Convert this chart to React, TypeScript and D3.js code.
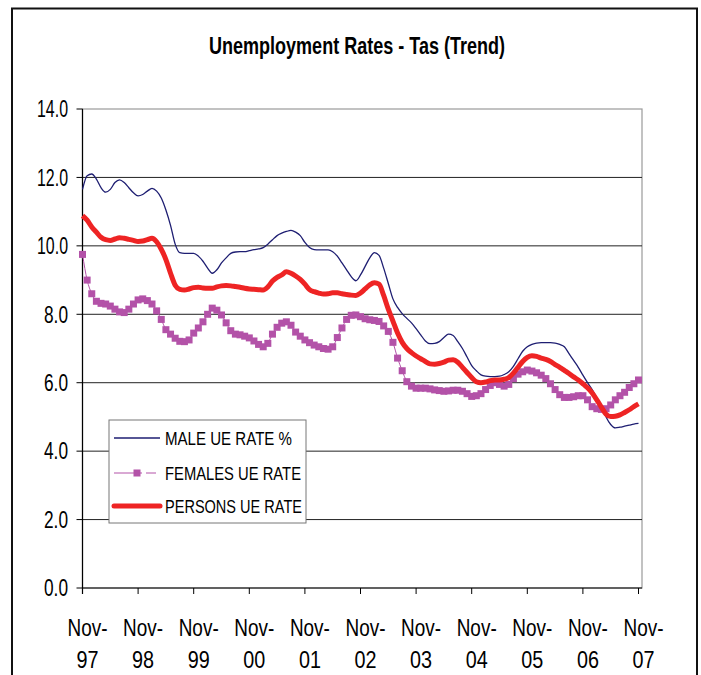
import React from 'react';
import * as d3 from 'd3';

// Monthly trend series, Nov-97 .. Nov-07 (121 months)
const maleRate = [
  11.65, 12.05, 12.1, 11.95, 11.7, 11.57, 11.65, 11.85, 11.93, 11.85, 11.7, 11.55,
  11.46, 11.5, 11.6, 11.68, 11.6, 11.4, 11.05, 10.6, 10.05, 9.8, 9.78, 9.78,
  9.78, 9.7, 9.55, 9.35, 9.2, 9.3, 9.5, 9.65, 9.78, 9.82, 9.83, 9.83,
  9.86, 9.89, 9.91, 9.95, 10.05, 10.18, 10.3, 10.37, 10.42, 10.45, 10.4, 10.3,
  10.1, 9.95, 9.89, 9.88, 9.88, 9.88, 9.83, 9.7, 9.5, 9.3, 9.1, 8.98,
  9.15, 9.4, 9.65, 9.8, 9.72, 9.35, 8.9, 8.45, 8.2, 8.02, 7.88, 7.75,
  7.58, 7.4, 7.22, 7.14, 7.15, 7.2, 7.32, 7.42, 7.38, 7.2, 7.0, 6.75,
  6.5, 6.35, 6.23, 6.19, 6.18, 6.18, 6.19, 6.24, 6.32, 6.48, 6.7, 6.92,
  7.05, 7.12, 7.16, 7.17, 7.17, 7.17, 7.16, 7.12, 7.05, 6.85, 6.65, 6.45,
  6.22, 6.0, 5.8, 5.55, 5.33, 5.0, 4.78, 4.68, 4.7, 4.73, 4.76, 4.79,
  4.81,
];

const femaleRate = [
  9.75, 9.0, 8.6, 8.38, 8.32, 8.3, 8.24, 8.15, 8.07, 8.05, 8.15, 8.3,
  8.42, 8.45, 8.4, 8.3, 8.1, 7.85, 7.55, 7.42, 7.3, 7.21, 7.2, 7.25,
  7.45, 7.6, 7.78, 8.0, 8.18, 8.12, 7.98, 7.75, 7.52, 7.42, 7.4, 7.36,
  7.31, 7.22, 7.12, 7.05, 7.15, 7.42, 7.62, 7.74, 7.78, 7.68, 7.48, 7.36,
  7.25, 7.17, 7.1, 7.05, 7.0, 6.98, 7.05, 7.32, 7.6, 7.85, 7.97, 7.98,
  7.93, 7.87, 7.84, 7.82, 7.79, 7.66, 7.5, 7.18, 6.72, 6.35, 6.03, 5.9,
  5.84, 5.84, 5.84, 5.82, 5.79, 5.77, 5.75, 5.76, 5.78, 5.78, 5.75, 5.68,
  5.6, 5.62, 5.68, 5.8, 5.92, 6.0, 5.95, 5.9, 5.95, 6.12, 6.25, 6.32,
  6.37, 6.34, 6.29, 6.22, 6.12, 5.97, 5.8, 5.65, 5.57, 5.57, 5.59, 5.62,
  5.62, 5.5, 5.3, 5.24, 5.22, 5.24, 5.35, 5.5, 5.62, 5.72, 5.86, 5.97,
  6.08,
];

const personsRate = [
  10.88, 10.75, 10.55, 10.4, 10.25, 10.18, 10.16, 10.2, 10.24, 10.22, 10.19, 10.16,
  10.13, 10.14, 10.18, 10.22, 10.12, 9.9, 9.6, 9.2, 8.85, 8.73, 8.71, 8.74,
  8.78, 8.79, 8.77, 8.76, 8.76, 8.8, 8.83, 8.84, 8.83, 8.81, 8.79, 8.76,
  8.74, 8.73, 8.72, 8.71, 8.8, 8.97, 9.08, 9.15, 9.24, 9.2, 9.12, 9.02,
  8.88, 8.72, 8.66, 8.62, 8.59, 8.6, 8.63, 8.63, 8.6, 8.58, 8.56, 8.55,
  8.62, 8.74, 8.86, 8.92, 8.88, 8.55, 8.15, 7.8, 7.45, 7.18, 7.0, 6.88,
  6.78, 6.7, 6.62, 6.55, 6.54, 6.56, 6.6, 6.66, 6.67, 6.6, 6.45, 6.3,
  6.15, 6.03, 6.0, 6.02, 6.06, 6.08, 6.08, 6.1, 6.15, 6.28, 6.45, 6.62,
  6.74, 6.79, 6.77, 6.72, 6.68, 6.62, 6.53, 6.45, 6.36, 6.27, 6.17, 6.08,
  5.97, 5.85, 5.7, 5.5, 5.28, 5.08, 5.01, 5.02, 5.06, 5.13, 5.21, 5.3,
  5.38,
];

const xTickLabels = ['Nov-97', 'Nov-98', 'Nov-99', 'Nov-00', 'Nov-01', 'Nov-02', 'Nov-03', 'Nov-04', 'Nov-05', 'Nov-06', 'Nov-07'];
const yTicks = [0, 2, 4, 6, 8, 10, 12, 14];
const seriesNames = ['MALE UE RATE %', 'FEMALES UE RATE', 'PERSONS UE RATE'];

const W = 701;
const H = 675;
const plot = { left: 82.5, right: 642, top: 109, bottom: 588 };
const MALE_C = '#1e1e72';
const FEMALE_C = '#b352a8';
const PERSON_C = '#ee2424';
const FONT = "'Liberation Sans', Arial, sans-serif";

export default function App() {
  const months = d3.range(maleRate.length);
  const x = d3.scaleLinear().domain([0, months.length - 1]).range([plot.left, 638.5]);
  const y = d3.scaleLinear().domain([0, 14]).range([plot.bottom, plot.top]);
  const line = d3.line<number>().x((_, i) => x(i)).y((d) => y(d)).curve(d3.curveMonotoneX);
  const fmt = d3.format('.1f');

  const legendX = 109;
  const legendY = 420;
  const rows = [438, 473, 506];

  return (
    <svg width={W} height={H} style={{ position: 'absolute', left: 0, top: 0, background: '#fff' }} fontFamily={FONT}>
      <rect x={0} y={0} width={W} height={H} fill="#fff" />
      <rect x={12} y={8.5} width={685} height={700} fill="none" stroke="#111" strokeWidth={2} />
      <text x={357} y={54} textAnchor="middle" fontSize={23} fontWeight="bold" textLength={296} lengthAdjust="spacingAndGlyphs">
        Unemployment Rates - Tas (Trend)
      </text>

      {/* plot area border */}
      <rect x={plot.left} y={plot.top} width={plot.right - plot.left} height={plot.bottom - plot.top} fill="none" stroke="#9a9a9a" strokeWidth={1.2} />

      {/* gridlines */}
      {yTicks.filter((t) => t > 0 && t < 14).map((t) => (
        <line key={t} x1={plot.left} x2={plot.right} y1={y(t)} y2={y(t)} stroke="#222" strokeWidth={1} />
      ))}

      {/* y axis */}
      <line x1={plot.left} x2={plot.left} y1={plot.top} y2={plot.bottom + 6} stroke="#000" strokeWidth={1.2} />
      {yTicks.map((t) => (
        <g key={t}>
          <line x1={plot.left - 6} x2={plot.left} y1={y(t)} y2={y(t)} stroke="#000" strokeWidth={1} />
          <text x={68} y={y(t)} dy="0.36em" textAnchor="end" fontSize={23} textLength={t >= 10 ? 31 : 24} lengthAdjust="spacingAndGlyphs">
            {fmt(t)}
          </text>
        </g>
      ))}

      {/* x axis */}
      <line x1={plot.left} x2={plot.right} y1={plot.bottom} y2={plot.bottom} stroke="#000" strokeWidth={1.2} />
      {xTickLabels.map((lab, k) => {
        const xi = x(k * 12);
        const [a, b] = [lab.slice(0, 4), lab.slice(4)];
        return (
          <g key={lab}>
            <line x1={xi} x2={xi} y1={plot.bottom} y2={plot.bottom + 6} stroke="#000" strokeWidth={1} />
            <text x={xi + 5} y={636} textAnchor="middle" fontSize={24} textLength={40} lengthAdjust="spacingAndGlyphs">{a}</text>
            <text x={xi + 5} y={668} textAnchor="middle" fontSize={24} textLength={22} lengthAdjust="spacingAndGlyphs">{b}</text>
          </g>
        );
      })}

      {/* series */}
      <path d={line(maleRate) || ''} fill="none" stroke={MALE_C} strokeWidth={1.3} />
      <path d={line(femaleRate) || ''} fill="none" stroke={FEMALE_C} strokeWidth={1} />
      {femaleRate.map((v, i) => (
        <rect key={i} x={x(i) - 3.5} y={y(v) - 3.5} width={7} height={7} fill={FEMALE_C} />
      ))}
      <path d={line(personsRate) || ''} fill="none" stroke={PERSON_C} strokeWidth={5} strokeLinejoin="round" />

      {/* legend */}
      <rect x={legendX} y={legendY} width={197} height={103} fill="#fff" stroke="#777" strokeWidth={1} />
      <line x1={114} x2={160} y1={rows[0]} y2={rows[0]} stroke={MALE_C} strokeWidth={1.3} />
      <line x1={114} x2={160} y1={rows[1]} y2={rows[1]} stroke={FEMALE_C} strokeWidth={1} strokeDasharray="20,4,4,4,10" />
      <rect x={133.5} y={rows[1] - 3.5} width={7} height={7} fill={FEMALE_C} />
      <line x1={114} x2={160} y1={rows[2]} y2={rows[2]} stroke={PERSON_C} strokeWidth={5} strokeLinecap="round" />
      {seriesNames.map((n, i) => (
        <text key={n} x={165} y={rows[i]} dy="0.36em" fontSize={19} textLength={[127, 136, 137][i]} lengthAdjust="spacingAndGlyphs">
          {n}
        </text>
      ))}
    </svg>
  );
}
